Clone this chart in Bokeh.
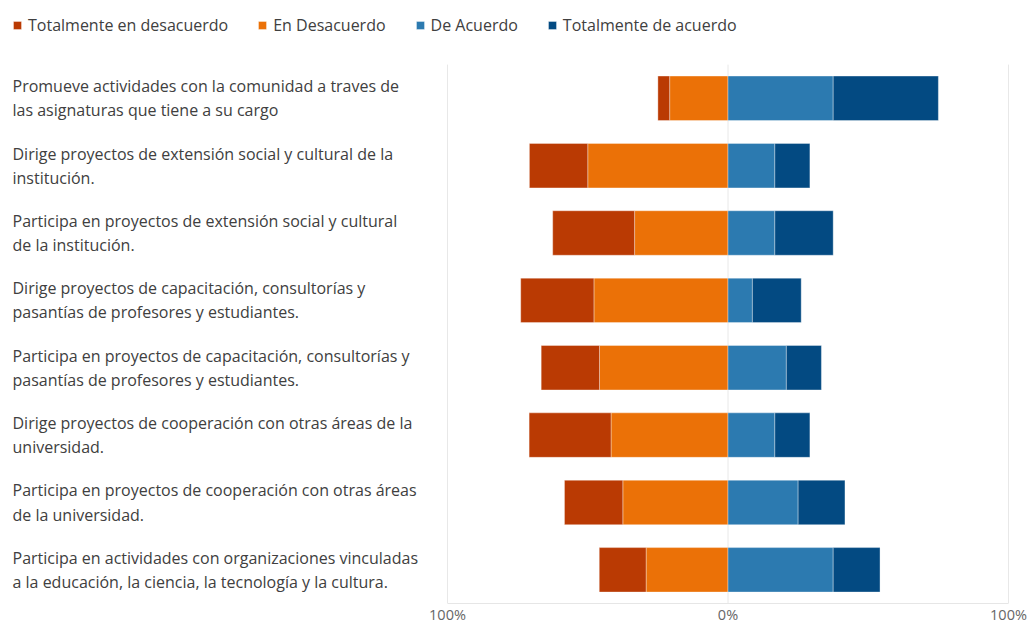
from bokeh.plotting import figure
from bokeh.models import ColumnDataSource, Range1d, FixedTicker, Legend, LegendItem
from bokeh.core.properties import value
from bokeh.embed import file_html
from bokeh.resources import INLINE

categories = [
    "Promueve actividades con la comunidad a traves de\nlas asignaturas que tiene a su cargo",
    "Dirige proyectos de extensión social y cultural de la\ninstitución.",
    "Participa en proyectos de extensión social y cultural\nde la institución.",
    "Dirige proyectos de capacitación, consultorías y\npasantías de profesores y estudiantes.",
    "Participa en proyectos de capacitación, consultorías y\npasantías de profesores y estudiantes.",
    "Dirige proyectos de cooperación con otras áreas de la\nuniversidad.",
    "Participa en proyectos de cooperación con otras áreas\nde la universidad.",
    "Participa en actividades con organizaciones vinculadas\na la educación, la ciencia, la tecnología y la cultura.",
]
totalmente_desacuerdo = [4.2, 20.8, 29.2, 26.1, 20.8, 29.2, 20.8, 16.7]
en_desacuerdo = [20.8, 50.0, 33.3, 47.8, 45.8, 41.7, 37.5, 29.2]
de_acuerdo = [37.5, 16.7, 16.7, 8.7, 20.8, 16.7, 25.0, 37.5]
totalmente_acuerdo = [37.5, 12.5, 20.8, 17.4, 12.5, 12.5, 16.7, 16.7]
series_names = ["Totalmente en desacuerdo", "En Desacuerdo", "De Acuerdo", "Totalmente de acuerdo"]
series_colors = ["#ba3a03", "#eb7107", "#2c7ab0", "#034a82"]
tick_values = [-100, 0, 100]
tick_labels = ["100%", "0%", "100%"]

FONT = "Open Sans"
W, H = 1031, 626
PLOT_L, PLOT_R, PLOT_T = 447, 1008, 64  # pixel extent of the bar area
PLOT_B = 602                             # frame bottom (axis below)
ppu = (PLOT_R - PLOT_L) / 200.0
n = len(categories)
row_px = (PLOT_B - PLOT_T) / n
ypos = [n - 0.5 - i for i in range(n)]

src = ColumnDataSource(dict(
    y=ypos,
    td=[-v for v in totalmente_desacuerdo],
    d=[-v for v in en_desacuerdo],
    a=de_acuerdo,
    ta=totalmente_acuerdo,
))

x_lo = -100 - PLOT_L / ppu
x_hi = 100 + (W - PLOT_R) / ppu
y_hi = n + PLOT_T / row_px

p = figure(width=W, height=H, output_backend="svg", toolbar_location=None,
           x_range=Range1d(x_lo, x_hi), y_range=Range1d(0, y_hi),
           min_border_left=0, min_border_right=0, min_border_top=0, min_border_bottom=0)
p.outline_line_color = None
p.background_fill_color = "white"
p.border_fill_color = "white"
p.xgrid.grid_line_color = None
p.ygrid.grid_line_color = None

# vertical grid lines at the tick values, spanning the rows only
p.segment(x0=tick_values, x1=tick_values, y0=[0] * 3, y1=[n] * 3,
          line_color="#e8e8e8", line_width=1)

neg = p.hbar_stack(["d", "td"], y="y", height=0.66, source=src,
                   color=[series_colors[1], series_colors[0]],
                   line_color="white", line_alpha=0.35, line_width=1)
pos = p.hbar_stack(["a", "ta"], y="y", height=0.66, source=src,
                   color=[series_colors[2], series_colors[3]],
                   line_color="white", line_alpha=0.35, line_width=1)

p.xaxis.ticker = FixedTicker(ticks=tick_values)
p.xaxis.bounds = (-100, 100)
p.xaxis.major_label_overrides = {t: l for t, l in zip(tick_values, tick_labels)}
p.xaxis.major_tick_line_color = None
p.xaxis.minor_tick_line_color = None
p.xaxis.major_tick_out = 0
p.xaxis.major_tick_in = 0
p.xaxis.minor_tick_out = 0
p.xaxis.minor_tick_in = 0
p.xaxis.axis_line_color = "#e6e6e6"
p.xaxis.major_label_text_color = "#666666"
p.xaxis.major_label_text_font = FONT
p.xaxis.major_label_text_font_size = "14.5px"
p.xaxis.major_label_standoff = 1
p.yaxis.visible = False

# category labels at the left of the chart
label_x = x_lo + 12 / ppu
p.text(x=[label_x] * n, y=ypos, text=categories, text_font=value(FONT), text_font_size="16px",
       text_color="#404040", text_baseline="middle", text_align="left", text_line_height=1.1)

renderers = [neg[1], neg[0], pos[0], pos[1]]
legend = Legend(items=[LegendItem(label=name, renderers=[r]) for name, r in zip(series_names, renderers)],
                orientation="horizontal", location=(12, PLOT_B - 35),
                glyph_width=10, glyph_height=10, label_standoff=6, spacing=29,
                padding=0, margin=0, border_line_color=None, background_fill_alpha=0,
                label_text_font=FONT, label_text_font_size="16px", label_text_color="#404040")
p.add_layout(legend, "center")

open("out.html", "w").write(file_html(p, INLINE))
